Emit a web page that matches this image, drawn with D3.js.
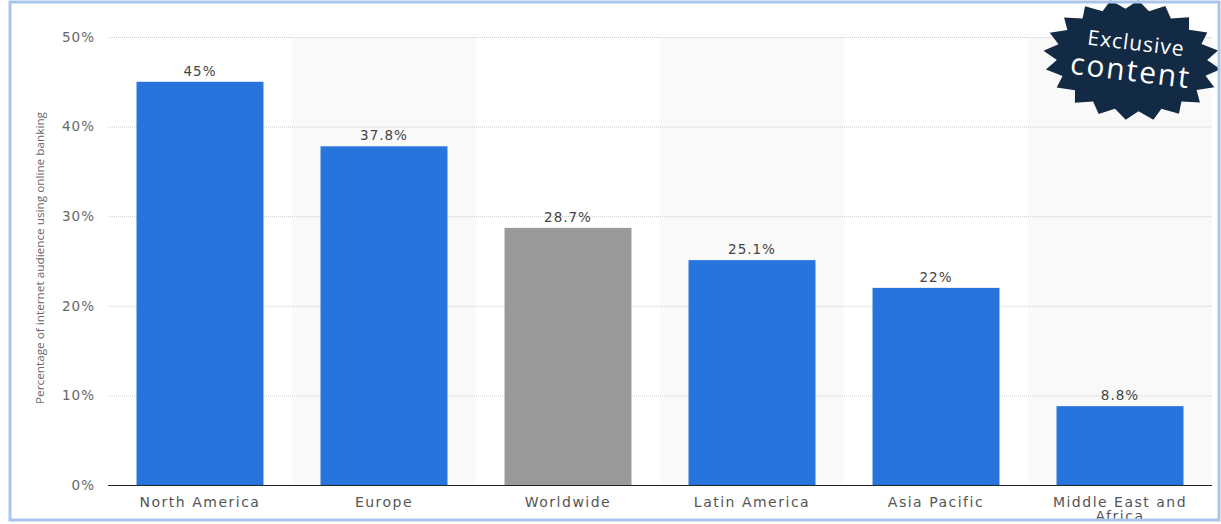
<!DOCTYPE html>
<html><head><meta charset="utf-8">
<script src="https://cdn.jsdelivr.net/npm/d3@7"></script>
<style>body{margin:0;background:#fff;}svg{display:block;}</style>
</head><body>
<svg id="c" width="1221" height="524"></svg>
<script>
const categories = ["North America","Europe","Worldwide","Latin America","Asia Pacific","Middle East and Africa"];
const values = [45, 37.8, 28.7, 25.1, 22, 8.8];
const valueLabels = ["45%","37.8%","28.7%","25.1%","22%","8.8%"];
const highlight = [false,false,true,false,false,false];
const yTicks = [0,10,20,30,40,50];
const yTitle = "Percentage of internet audience using online banking";
const badgeLines = ["Exclusive","content"];

const svg = d3.select("#c");
const m = {left:108, right:1212, top:37, bottom:485};
const FONT = "DejaVu Sans, Verdana, sans-serif";

const x = d3.scaleBand().domain(categories).range([m.left, m.right]).paddingInner(0.31).paddingOuter(0.155);
const xb = d3.scaleBand().domain(categories).range([m.left, m.right]).padding(0);
const y = d3.scaleLinear().domain([0,50]).range([m.bottom, m.top]);

// alternating shading
svg.append("g").selectAll("rect").data(categories.filter((d,i)=>i%2===1)).join("rect")
  .attr("x", d=>xb(d)).attr("width", xb.bandwidth())
  .attr("y", m.top).attr("height", m.bottom-m.top).attr("fill","#f9f9f9");

// grid
svg.append("g").selectAll("line").data(yTicks.filter(t=>t>0)).join("line")
  .attr("x1", m.left).attr("x2", m.right)
  .attr("y1", d=>y(d)+0.5).attr("y2", d=>y(d)+0.5)
  .attr("stroke","#cccccc").attr("stroke-dasharray","1,1").attr("stroke-width",1);

// y axis
const yAxis = d3.axisLeft(y).tickValues(yTicks).tickFormat(d=>d+"%").tickSize(0).tickPadding(13);
const ga = svg.append("g").attr("transform",`translate(${m.left},0)`).call(yAxis);
ga.select(".domain").remove();
ga.selectAll("text").attr("font-family",FONT).attr("font-size",13.5)
  .attr("fill","#666").attr("letter-spacing","1px");

// bars
svg.append("g").selectAll("rect").data(categories).join("rect")
  .attr("x", d=>x(d)).attr("width", x.bandwidth())
  .attr("y", (d,i)=>y(values[i])).attr("height",(d,i)=>y(0)-y(values[i]))
  .attr("fill",(d,i)=>highlight[i]?"#999999":"#2775dc");

// value labels
svg.append("g").selectAll("text").data(categories).join("text")
  .attr("x", d=>x(d)+x.bandwidth()/2).attr("y",(d,i)=>y(values[i])-6)
  .attr("text-anchor","middle").attr("font-family",FONT)
  .attr("font-size",13.5).attr("fill","#444").attr("letter-spacing","1px")
  .text((d,i)=>valueLabels[i]);

// baseline
svg.append("line").attr("x1",m.left).attr("x2",m.right).attr("y1",y(0)+0.5).attr("y2",y(0)+0.5)
  .attr("stroke","#222").attr("stroke-width",1.2);

// x labels
const xl = svg.append("g").selectAll("text").data(categories).join("text")
  .attr("x", d=>x(d)+x.bandwidth()/2).attr("y", 507)
  .attr("text-anchor","middle").attr("font-family",FONT)
  .attr("font-size",14).attr("fill","#555").attr("letter-spacing","1.5px");
xl.each(function(d){
  const t = d3.select(this);
  if (d.length>16){
    const words = d.split(" ");
    t.append("tspan").attr("x", x(d)+x.bandwidth()/2).attr("dy",0).text(words.slice(0,3).join(" "));
    t.append("tspan").attr("x", x(d)+x.bandwidth()/2).attr("dy",14).text(words.slice(3).join(" "));
  } else t.text(d);
});

// y title
svg.append("text").attr("transform",`translate(44,258) rotate(-90)`).attr("text-anchor","middle")
  .attr("font-family","Open Sans, sans-serif").attr("font-size",11).attr("fill","#666")
  .attr("textLength",292).attr("lengthAdjust","spacingAndGlyphs")
  .text(yTitle);

// badge
const cx=1132, cy=60, RX=89, RY=60, n=20, depth=9;
const pts=d3.range(n*2).map(i=>{const a=i*Math.PI/n - Math.PI/2; const k=i%2?1-depth/RY:1; return [cx+RX*k*Math.cos(a), cy+RY*k*Math.sin(a)];});
svg.append("path").attr("d", d3.line()(pts)+"Z").attr("fill","#132a45")
  .attr("transform",`rotate(6,${cx},${cy})`);
const bg = svg.append("g").attr("transform",`translate(${cx},${cy}) rotate(7)`);
bg.append("text").attr("x",2).attr("y",-10).attr("text-anchor","middle").attr("fill","#fff")
  .attr("font-family","Open Sans, sans-serif").attr("font-size",21).attr("letter-spacing","1px").text(badgeLines[0]);
bg.append("text").attr("x",0).attr("y",21).attr("text-anchor","middle").attr("fill","#fff")
  .attr("font-family","Open Sans, sans-serif").attr("font-size",30).attr("letter-spacing","2px").text(badgeLines[1]);

// frame
svg.append("rect").attr("x",10).attr("y",2).attr("width",1209).attr("height",518)
  .attr("fill","none").attr("stroke","#a9c6ea").attr("stroke-width",3);
</script>
</body></html>
